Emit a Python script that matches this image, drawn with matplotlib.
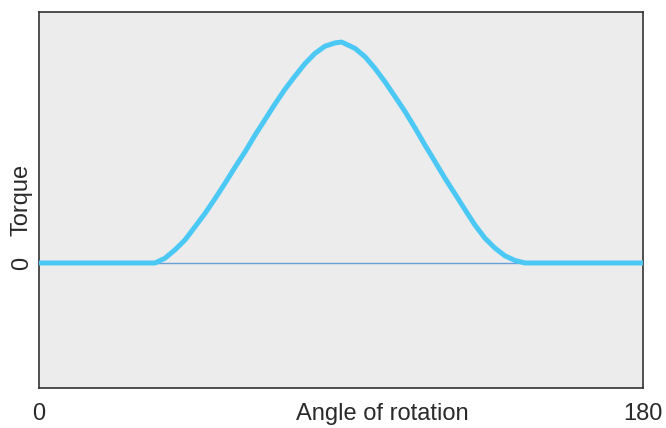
import matplotlib.pyplot as plt

plt.rcParams['font.family'] = ['Liberation Sans', 'DejaVu Sans']

# angle of rotation (deg) and torque (normalised)
angle = [0, 34.6, 37.5, 40.5, 43.5, 46.5, 49.5, 52.5, 55.4, 58.4, 61.4, 64.4, 67.4,
         70.3, 73.3, 76.3, 79.3, 82.2, 85.2, 88.2, 90.2, 94.2, 97.2, 100.1, 103.1,
         106.1, 109.1, 112.1, 115.0, 118.0, 121.0, 124.0, 127.0, 129.9, 132.9,
         135.9, 138.9, 141.9, 144.8, 180]
torque = [0, 0, 0.021, 0.059, 0.104, 0.164, 0.225, 0.292, 0.360, 0.433, 0.503, 0.579, 0.650,
          0.719, 0.786, 0.846, 0.903, 0.948, 0.981, 0.996, 1.0, 0.971, 0.933, 0.881, 0.820,
          0.753, 0.685, 0.610, 0.534, 0.459, 0.383, 0.312, 0.240, 0.172, 0.112,
          0.067, 0.032, 0.011, 0, 0]

x_ticks = [0, 180]
x_labels = ["0", "180"]

fig = plt.figure(figsize=(6.66, 4.28), dpi=100)
ax = fig.add_axes([39 / 666, 40 / 428, 604 / 666, 376 / 428])
ax.set_facecolor("#ececec")

ax.axhline(0, color="#6a9fd6", linewidth=1.0, zorder=2)
ax.plot(angle, torque, color="#4cc8f4", linewidth=3.6,
        solid_capstyle="butt", solid_joinstyle="round", zorder=3)

ax.set_xlim(0, 180)
ax.set_ylim(-0.566, 1.136)

ax.set_xticks(x_ticks)
ax.set_xticklabels(x_labels, fontsize=17, color="#2a2a2a")
ax.set_yticks([0])
ax.set_yticklabels(["0"], fontsize=17, rotation=90, va="center", color="#2a2a2a")
ax.tick_params(axis="x", length=0, pad=11)
ax.tick_params(axis="y", length=0, pad=4)

ax.set_xlabel("Angle of rotation", fontsize=17, color="#2a2a2a")
ax.xaxis.set_label_coords(0.568, -0.04)
ax.set_ylabel("Torque", fontsize=17, color="#2a2a2a")
ax.yaxis.set_label_coords(-0.01, 0.5)

for s in ax.spines.values():
    s.set_color("#333333")
    s.set_linewidth(1.2)

fig.savefig("out.png", dpi=100)
